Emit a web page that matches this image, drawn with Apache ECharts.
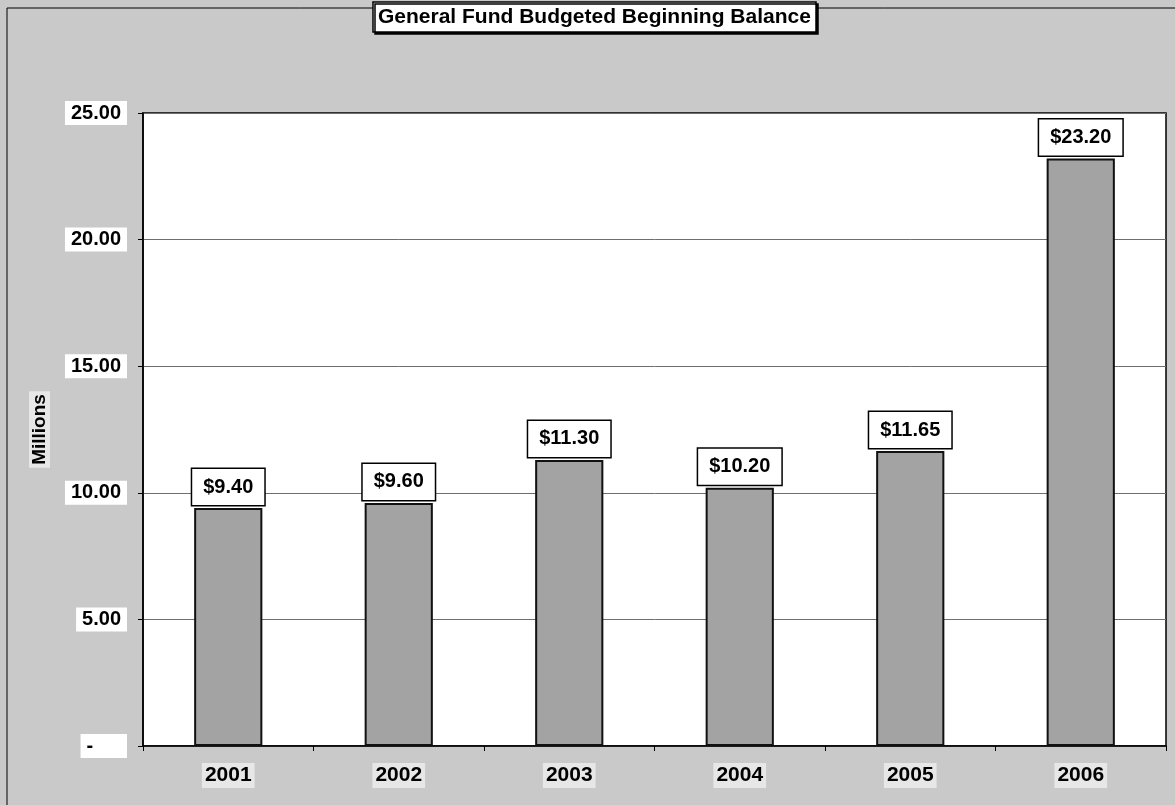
<!DOCTYPE html>
<html>
<head>
<meta charset="utf-8">
<title>General Fund Budgeted Beginning Balance</title>
<script src="https://cdn.jsdelivr.net/npm/echarts@6/dist/echarts.min.js"></script>
<style>
  html, body { margin: 0; padding: 0; background: #c9c9c9; }
  #chart { width: 1175px; height: 805px; }
</style>
</head>
<body>
<div id="chart"></div>
<script>
// Fiscal years and budgeted beginning balance of the General Fund (in millions)
const years = ['2001', '2002', '2003', '2004', '2005', '2006'];
const balances = [9.40, 9.60, 11.30, 10.20, 11.65, 23.20];
const chartTitle = 'General Fund Budgeted Beginning Balance';
const axisName = 'Millions';

const FONT = '"Liberation Sans", Arial, sans-serif';

const chart = echarts.init(document.getElementById('chart'), null, { renderer: 'canvas' });

chart.setOption({
  backgroundColor: '#c9c9c9',
  animation: false,
  title: {
    text: chartTitle,
    left: 373,
    top: 2,
    padding: [5, 5, 4, 5],
    backgroundColor: '#ffffff',
    borderColor: '#000000',
    borderWidth: 1.5,
    shadowColor: '#000000',
    shadowOffsetX: 2,
    shadowOffsetY: 2,
    textStyle: { fontFamily: FONT, fontSize: 21, fontWeight: 'bold', color: '#000' }
  },
  graphic: [{
    type: 'rect',
    shape: { x: 7, y: 8, width: 1200, height: 900 },
    style: { fill: null, stroke: '#000', lineWidth: 1 },
    z: 0
  }],
  grid: {
    left: 143, right: 9, top: 113, bottom: 59,
    show: true,
    backgroundColor: '#ffffff',
    borderColor: '#000000',
    borderWidth: 1.5
  },
  xAxis: {
    type: 'category',
    data: years,
    axisLine: { lineStyle: { color: '#000', width: 1.5 } },
    axisTick: { show: true, alignWithLabel: false, length: 5, lineStyle: { color: '#000' } },
    axisLabel: {
      margin: 17,
      fontFamily: FONT, fontSize: 21, fontWeight: 'bold', color: '#000',
      backgroundColor: 'rgba(255,255,255,0.55)',
      padding: [2, 3]
    }
  },
  yAxis: {
    type: 'value',
    min: 0, max: 25, interval: 5,
    name: axisName,
    nameLocation: 'middle',
    nameRotate: 90,
    nameGap: 93,
    nameTextStyle: {
      fontFamily: FONT, fontSize: 19, fontWeight: 'bold', color: '#000',
      backgroundColor: 'rgba(255,255,255,0.55)', padding: [1, 3]
    },
    axisLine: { show: true, lineStyle: { color: '#000', width: 1.5 } },
    axisTick: { show: true, length: 5, lineStyle: { color: '#000' } },
    splitLine: { lineStyle: { color: '#6e6e6e', width: 1 } },
    axisLabel: {
      margin: 16,
      fontFamily: FONT, fontSize: 20, fontWeight: 'bold', color: '#000',
      backgroundColor: '#ffffff',
      padding: [2, 6],
      formatter: v => (v === 0 ? '-     ' : v.toFixed(2))
    }
  },
  series: [{
    type: 'bar',
    data: balances,
    barWidth: '40%',
    itemStyle: { color: '#a3a3a3', borderColor: '#111', borderWidth: 2 },
    label: {
      show: true,
      position: 'top',
      distance: 3,
      formatter: p => '$' + p.value.toFixed(2),
      fontFamily: FONT, fontSize: 20, fontWeight: 'bold', color: '#000',
      backgroundColor: '#ffffff',
      borderColor: '#000', borderWidth: 1.5,
      padding: [8, 11]
    }
  }]
});
</script>
</body>
</html>
